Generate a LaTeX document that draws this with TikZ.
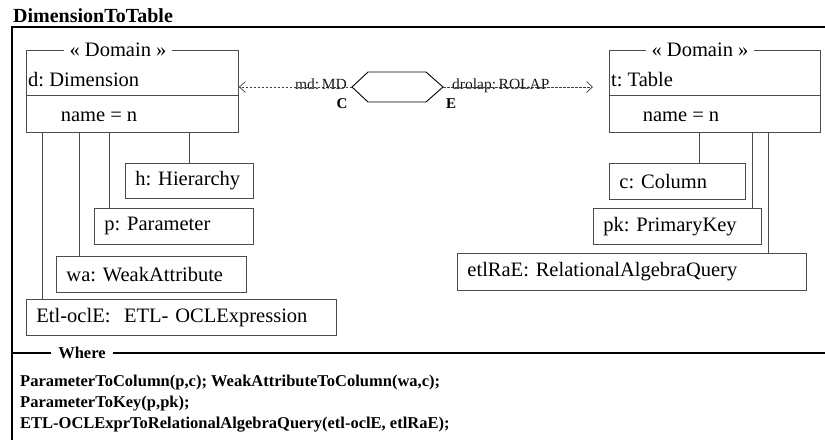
\documentclass[tikz,border=0pt]{standalone}
\usepackage{fontspec}
\setmainfont{Liberation Serif}
\usetikzlibrary{arrows.meta}
\frenchspacing
\hyphenpenalty=10000
\begin{document}
\begin{tikzpicture}[x=1pt,y=-1pt,
  frame/.style={draw=black, line width=1.2pt},
  objbox/.style={draw=black!70, line width=0.9pt, rectangle, anchor=north west,
    inner xsep=10pt, inner ysep=0pt, align=left, font=\fontsize{20.5}{24}\selectfont},
  domainbox/.style={draw=black!70, line width=0.9pt, rectangle, anchor=north west, inner sep=0pt},
  conn/.style={draw=black!70, line width=0.9pt},
  stereo/.style={fill=white, inner xsep=6pt, inner ysep=1pt, font=\fontsize{20.5}{24}\selectfont},
  plain/.style={inner sep=0pt, font=\fontsize{20.5}{24}\selectfont},
  rolelabel/.style={inner sep=0pt, font=\fontsize{15.5}{18}\selectfont, text=black!90},
  domlabel/.style={inner sep=0pt, font=\fontsize{15}{18}\selectfont\bfseries},
  dep/.style={draw=black!75, line width=0.7pt, dash pattern=on 2.5pt off 1.5pt,
    -{Straight Barb[length=6pt,width=11pt]}},
  wheretext/.style={inner sep=0pt, anchor=base west, font=\fontsize{16.5}{20}\selectfont\bfseries}
]
\useasboundingbox (0,0) rectangle (825,440);

% title and frame
\node[inner sep=0pt, anchor=base west, font=\fontsize{20}{24}\selectfont\bfseries] (title) at (13,22) {DimensionToTable};
\coordinate (ftl) at (12,27);
\coordinate (ftr) at (825,27);
\coordinate (fbl) at (12,440);
\draw[frame] (ftr) -- (ftl) -- (fbl);

% left domain
\node[domainbox, minimum width=212pt, minimum height=82pt] (dbox) at (26,50) {};
\draw[conn] (26,95) -- (238,95);
\node[stereo] (dster) at (118,50) {« Domain »};
\node[plain, anchor=west] (dname) at (28,80) {d: Dimension};
\node[plain] (dattr) at (99,117) {name = n};

% right domain
\node[domainbox, minimum width=211pt, minimum height=82pt] (tbox) at (609,50) {};
\draw[conn] (609,95) -- (820,95);
\node[stereo] (tster) at (700,50) {« Domain »};
\node[plain, anchor=west] (tname) at (611,80) {t: Table};
\node[plain] (tattr) at (681,117) {name = n};

% hexagon
\coordinate (hexL) at (352,87);
\coordinate (hexR) at (443,87);
\draw[draw=black, line width=0.9pt] (hexL) -- (368,72) -- (426,72) -- (hexR) -- (426,102) -- (368,102) -- cycle;
\node[domlabel] (cl) at (342,104) {C};
\node[domlabel] (el) at (451,104) {E};

% dependencies
\draw[dep] (hexL) -- (hexL -| dbox.east);
\draw[dep, shorten >=16pt] (hexR) -- (hexR -| tbox.west);
\node[rolelabel, anchor=base east] (md) at (347,89) {md:\,MD};
\node[rolelabel, anchor=base west] (dr) at (452,89) {drolap:\,ROLAP};

% left objects
\node[objbox, text width=108pt, minimum height=35pt] (h) at (125,163) {h: Hierarchy};
\node[objbox, text width=139pt, minimum height=36pt] (p) at (94,208) {p: Parameter};
\node[objbox, text width=170pt, minimum height=36pt] (wa) at (56,256) {wa: WeakAttribute};
\node[objbox, text width=290pt, minimum height=36pt] (etl) at (26,299) {Etl-oclE:\ \ ETL-\ OCLExpression};

\draw[conn] (dbox.south -| 42,0) -- (etl.north -| 42,0);
\draw[conn] (dbox.south -| 79,0) -- (wa.north -| 79,0);
\draw[conn] (dbox.south -| 109,0) -- (p.north -| 109,0);
\draw[conn] (dbox.south -| 189,0) -- (h.north -| 189,0);

% right objects
\node[objbox, text width=116pt, minimum height=36pt] (c) at (609,163) {c: Column};
\node[objbox, text width=148pt, minimum height=36pt] (pk) at (593,208) {pk: PrimaryKey};
\node[objbox, text width=329pt, minimum height=37pt] (ra) at (457,253) {etlRaE: RelationalAlgebraQuery};

\draw[conn] (tbox.south -| 699,0) -- (c.north -| 699,0);
\draw[conn] (tbox.south -| 752,0) -- (pk.north -| 752,0);
\draw[conn] (tbox.south -| 768,0) -- (ra.north -| 768,0);

% where section
\coordinate (wl) at (12,353);
\coordinate (wr) at (825,353);
\draw[frame] (wl) -- (wr);
\node[fill=white, inner xsep=7pt, inner ysep=1pt, font=\fontsize{16.5}{20}\selectfont\bfseries] (where) at (82,353) {Where};
\node[wheretext] (w1) at (20,386) {ParameterToColumn(p,c); WeakAttributeToColumn(wa,c);};
\node[wheretext] (w2) at (20,407) {ParameterToKey(p,pk);};
\node[wheretext] (w3) at (20,428) {ETL-OCLExprToRelationalAlgebraQuery(etl-oclE, etlRaE);};
\end{tikzpicture}
\end{document}
